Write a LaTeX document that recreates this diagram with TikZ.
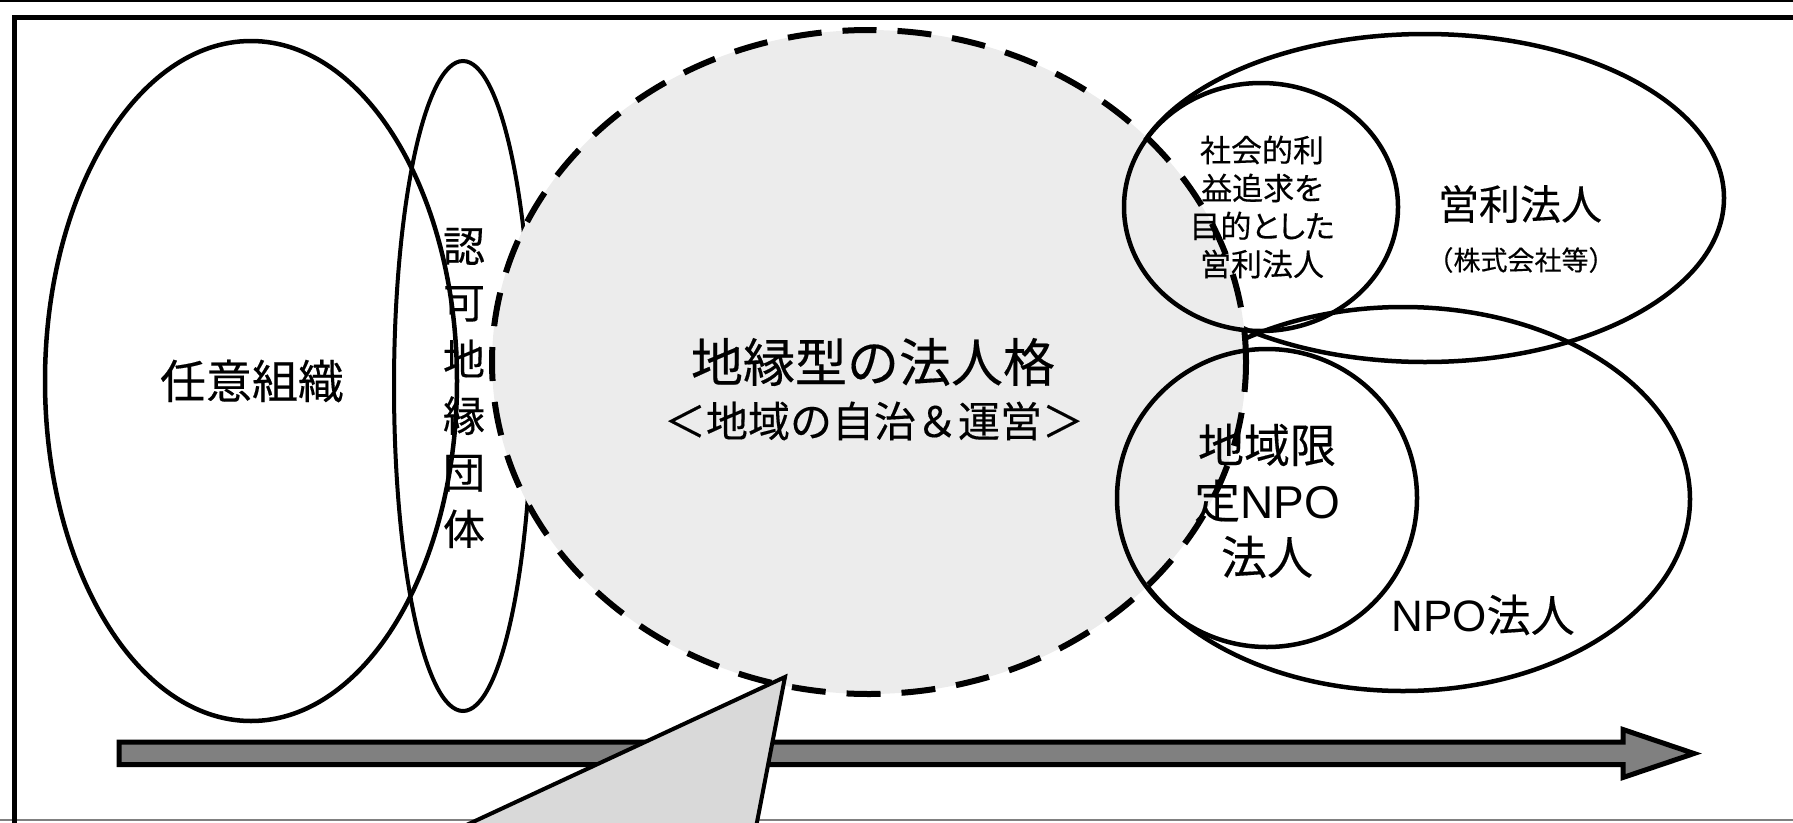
\documentclass[tikz,border=0pt]{standalone}
\usepackage{fontspec}
\newfontfamily\jp[FakeBold=0.3]{Noto Sans CJK JP}
\newfontfamily\jpp[RawFeature=+palt,FakeBold=0.3]{Noto Sans CJK JP}
\newfontfamily\lat{Liberation Sans}
\usetikzlibrary{shapes.geometric}
\definecolor{circgray}{HTML}{ECECEC}
\definecolor{callgray}{HTML}{D9D9D9}
\definecolor{arrgray}{HTML}{808080}
\begin{document}
\begin{tikzpicture}[x=1pt,y=-1pt,
  ell/.style={draw, ellipse, line width=4.5pt, inner sep=0pt, outer sep=0pt},
  lbl/.style={inner sep=0pt, outer sep=0pt, align=center},
]
\useasboundingbox (0,0) rectangle (1793,822);
\clip (0,0) rectangle (1793,822);
% frame
\draw[line width=1.5pt] (0,1) -- (1793,1);
\draw[line width=1.2pt, gray] (0,820) -- (1793,820);
\draw[line width=5pt] (14,840) -- (14,17) -- (1810,17);
% ellipses below the shaded region
\node[ell, minimum width=412pt, minimum height=680pt] (nin) at (251,381) {};
\node[ell, line width=4pt, minimum width=138pt, minimum height=650pt] (nka) at (463,386) {};
\node[ell, minimum width=598pt, minimum height=328pt] (eri) at (1425,198) {};
\node[ell, minimum width=574pt, minimum height=384pt] (npo) at (1403,499) {};
% dashed region
\node[ellipse, fill=circgray, draw, line width=6pt, dash pattern=on 34pt off 21pt,
      inner sep=0pt, minimum width=754pt, minimum height=664pt] (chi) at (869,362) {};
% ellipses above the shaded region
\node[ell, minimum width=274pt, minimum height=248pt] (sha) at (1261,207) {};
\node[ell, minimum width=300pt, minimum height=298pt] (gen) at (1267,498) {};
% arrow
\draw[line width=5pt, fill=arrgray, line join=miter]
  (119,742) -- (1623,742) -- (1623,729.5) -- (1694,753.5) -- (1623,777.5)
  -- (1623,764.5) -- (119,764.5) -- cycle;
% callout
\draw[line width=4pt, fill=callgray, line join=miter]
  (785,677) -- (742,900) -- (305,900) -- cycle;
% texts
\node[lbl, font=\jp\fontsize{46pt}{46pt}\selectfont] (tnin) at (252,381) {任意組織};
\node[lbl, font=\jp\fontsize{42pt}{56.6pt}\selectfont] (tnka) at (464,388)
  {認\\可\\地\\縁\\団\\体};
\node[lbl, font=\jp\fontsize{52pt}{52pt}\selectfont] (tchi1) at (873,362) {地縁型の法人格};
\node[lbl, font=\jp\fontsize{42pt}{42pt}\selectfont] (tchi2) at (874,421) {＜地域の自治＆運営＞};
\node[lbl, font=\jpp\fontsize{31pt}{38pt}\selectfont] (tsha) at (1262,207)
  {社会的利\\益追求を\\目的とした\\営利法人};
\node[lbl, font=\jp\fontsize{41pt}{41pt}\selectfont] (teri1) at (1520,204) {営利法人};
\node[lbl, font=\jp\fontsize{27pt}{27pt}\selectfont] (teri2) at (1521,260) {（株式会社等）};
\node[lbl, font=\jp\fontsize{46pt}{56pt}\selectfont] (tgen) at (1267,501)
  {地域限\\定{\lat NPO}\\法人};
\node[lbl, font=\jp\fontsize{44pt}{44pt}\selectfont] (tnpo) at (1483,615) {{\lat NPO}法人};
\end{tikzpicture}
\end{document}
